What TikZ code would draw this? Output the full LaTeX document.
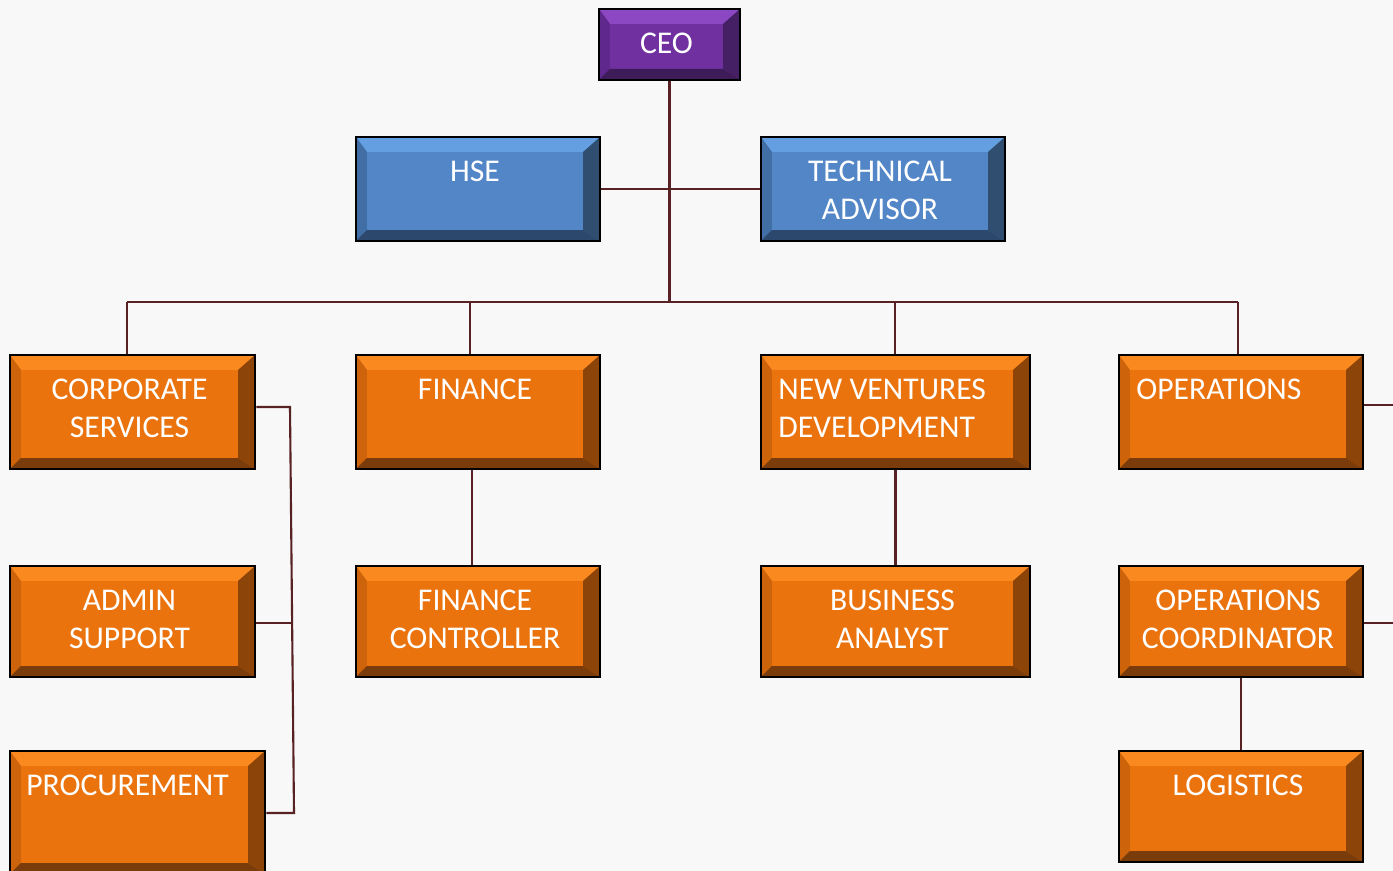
\documentclass[tikz,border=0pt]{standalone}
\usepackage{fontspec}
\setmainfont{Carlito}
\definecolor{bgc}{RGB}{248,248,248}
\definecolor{conc}{RGB}{88,34,36}
\definecolor{omain}{RGB}{235,115,14}
\definecolor{otop}{RGB}{250,138,32}
\definecolor{oleft}{RGB}{205,100,12}
\definecolor{oright}{RGB}{140,68,8}
\definecolor{obot}{RGB}{122,60,10}
\definecolor{bmain}{RGB}{82,134,199}
\definecolor{btop}{RGB}{100,160,225}
\definecolor{bleft}{RGB}{65,110,165}
\definecolor{bright}{RGB}{48,78,112}
\definecolor{bbot}{RGB}{44,72,108}
\definecolor{pmain}{RGB}{112,48,160}
\definecolor{ptop}{RGB}{140,72,195}
\definecolor{pleft}{RGB}{95,40,140}
\definecolor{pright}{RGB}{70,32,100}
\definecolor{pbot}{RGB}{62,28,90}
\tikzset{
  bevbox/.style n args={5}{draw=black, line width=0.75pt, fill=#1, inner sep=0pt, rectangle,
    path picture={
      \fill[#2] (path picture bounding box.north west) -- (path picture bounding box.north east)
        -- ([xshift=-1.7mm,yshift=-1.5mm]path picture bounding box.north east)
        -- ([xshift=1.1mm,yshift=-1.5mm]path picture bounding box.north west) -- cycle;
      \fill[#3] (path picture bounding box.north west)
        -- ([xshift=1.1mm,yshift=-1.5mm]path picture bounding box.north west)
        -- ([xshift=1.1mm,yshift=1.1mm]path picture bounding box.south west)
        -- (path picture bounding box.south west) -- cycle;
      \fill[#4] (path picture bounding box.north east) -- (path picture bounding box.south east)
        -- ([xshift=-1.7mm,yshift=1.1mm]path picture bounding box.south east)
        -- ([xshift=-1.7mm,yshift=-1.5mm]path picture bounding box.north east) -- cycle;
      \fill[#5] (path picture bounding box.south west) -- (path picture bounding box.south east)
        -- ([xshift=-1.7mm,yshift=1.1mm]path picture bounding box.south east)
        -- ([xshift=1.1mm,yshift=1.1mm]path picture bounding box.south west) -- cycle;
    }},
  obox/.style={bevbox={omain}{otop}{oleft}{oright}{obot}},
  bbox/.style={bevbox={bmain}{btop}{bleft}{bright}{bbot}},
  pbox/.style={bevbox={pmain}{ptop}{pleft}{pright}{pbot}},
  lbl/.style={text=white, font=\fontsize{9}{10.95}\selectfont, inner sep=0pt, align=center, anchor=north},
  lbll/.style={lbl, align=left, anchor=north west},
  conn/.style={draw=conc, line width=0.6pt},
}
\begin{document}
\begin{tikzpicture}[x=0.01cm,y=-0.01cm]
\clip (0,0) rectangle (1393,871);
\fill[bgc] (0,0) rectangle (1393,871);

% boxes
\node[pbox, minimum width=1.41cm, minimum height=0.71cm] (ceo) at (669.5,44.5) {};
\node[bbox, minimum width=2.44cm, minimum height=1.04cm] (hse) at (478,189) {};
\node[bbox, minimum width=2.44cm, minimum height=1.04cm] (tech) at (883,189) {};
\node[obox, minimum width=2.45cm, minimum height=1.14cm] (corp) at (132.5,412) {};
\node[obox, minimum width=2.44cm, minimum height=1.14cm] (fin) at (478,412) {};
\node[obox, minimum width=2.69cm, minimum height=1.14cm] (nvd) at (895.5,412) {};
\node[obox, minimum width=2.44cm, minimum height=1.14cm] (ops) at (1241,412) {};
\node[obox, minimum width=2.45cm, minimum height=1.11cm] (admin) at (132.5,621.5) {};
\node[obox, minimum width=2.44cm, minimum height=1.11cm] (fc) at (478,621.5) {};
\node[obox, minimum width=2.69cm, minimum height=1.11cm] (ba) at (895.5,621.5) {};
\node[obox, minimum width=2.44cm, minimum height=1.11cm] (oc) at (1241,621.5) {};
\node[obox, minimum width=2.55cm, minimum height=1.23cm] (proc) at (137.5,812.5) {};
\node[obox, minimum width=2.44cm, minimum height=1.11cm] (log) at (1241,806.5) {};

% labels
\node[lbl] (ceo-t) at ([xshift=-0.03cm,yshift=-0.245cm]ceo.north) {CEO};
\node[lbl] (hse-t) at ([xshift=-0.03cm,yshift=-0.245cm]hse.north) {HSE};
\node[lbl] (tech-t) at ([xshift=-0.03cm,yshift=-0.245cm]tech.north) {TECHNICAL\\ADVISOR};
\node[lbl] (corp-t) at ([xshift=-0.03cm,yshift=-0.245cm]corp.north) {CORPORATE\\SERVICES};
\node[lbl] (fin-t) at ([xshift=-0.03cm,yshift=-0.245cm]fin.north) {FINANCE};
\node[lbll] (nvd-t) at ([xshift=0.18cm,yshift=-0.245cm]nvd.north west) {NEW VENTURES\\DEVELOPMENT};
\node[lbll] (ops-t) at ([xshift=0.18cm,yshift=-0.245cm]ops.north west) {OPERATIONS};
\node[lbl] (admin-t) at ([xshift=-0.03cm,yshift=-0.245cm]admin.north) {ADMIN\\SUPPORT};
\node[lbl] (fc-t) at ([xshift=-0.03cm,yshift=-0.245cm]fc.north) {FINANCE\\CONTROLLER};
\node[lbl] (ba-t) at ([xshift=-0.03cm,yshift=-0.245cm]ba.north) {BUSINESS\\ANALYST};
\node[lbl] (oc-t) at ([xshift=-0.03cm,yshift=-0.245cm]oc.north) {OPERATIONS\\COORDINATOR};
\node[lbll] (proc-t) at ([xshift=0.17cm,yshift=-0.245cm]proc.north west) {PROCUREMENT};
\node[lbl] (log-t) at ([xshift=-0.03cm,yshift=-0.245cm]log.north) {LOGISTICS};

% connector coordinates
\coordinate (busL) at (127,302);
\coordinate (d2) at (470,302);
\coordinate (d3) at (895,302);
\coordinate (busR) at (1238,302);
\coordinate (k1) at (290,407);
\coordinate (k2) at (292,623);
\coordinate (k3) at (294,813);
\coordinate (r1) at (1393,405);
\coordinate (r2) at (1393,623);

% connectors
\draw[conn] (ceo.south) -- (ceo.south |- busL);
\draw[conn] (hse.east) -- (tech.west);
\draw[conn] (busL) -- (busR);
\draw[conn] (busL) -- (busL |- corp.north);
\draw[conn] (d2) -- (d2 |- fin.north);
\draw[conn] (d3) -- (d3 |- nvd.north);
\draw[conn] (busR) -- (busR |- ops.north);
\draw[conn] ([xshift=-0.06cm]fin.south) -- ([xshift=-0.06cm]fc.north);
\draw[conn] (nvd.south) -- (ba.north);
\draw[conn] (oc.south) -- (log.north);
\draw[conn] (corp.east |- k1) -- (k1) -- (k3) -- (proc.east |- k3);
\draw[conn] (admin.east |- k2) -- (k2);
\draw[conn] (ops.east |- r1) -- (r1);
\draw[conn] (oc.east |- r2) -- (r2);
\end{tikzpicture}
\end{document}
